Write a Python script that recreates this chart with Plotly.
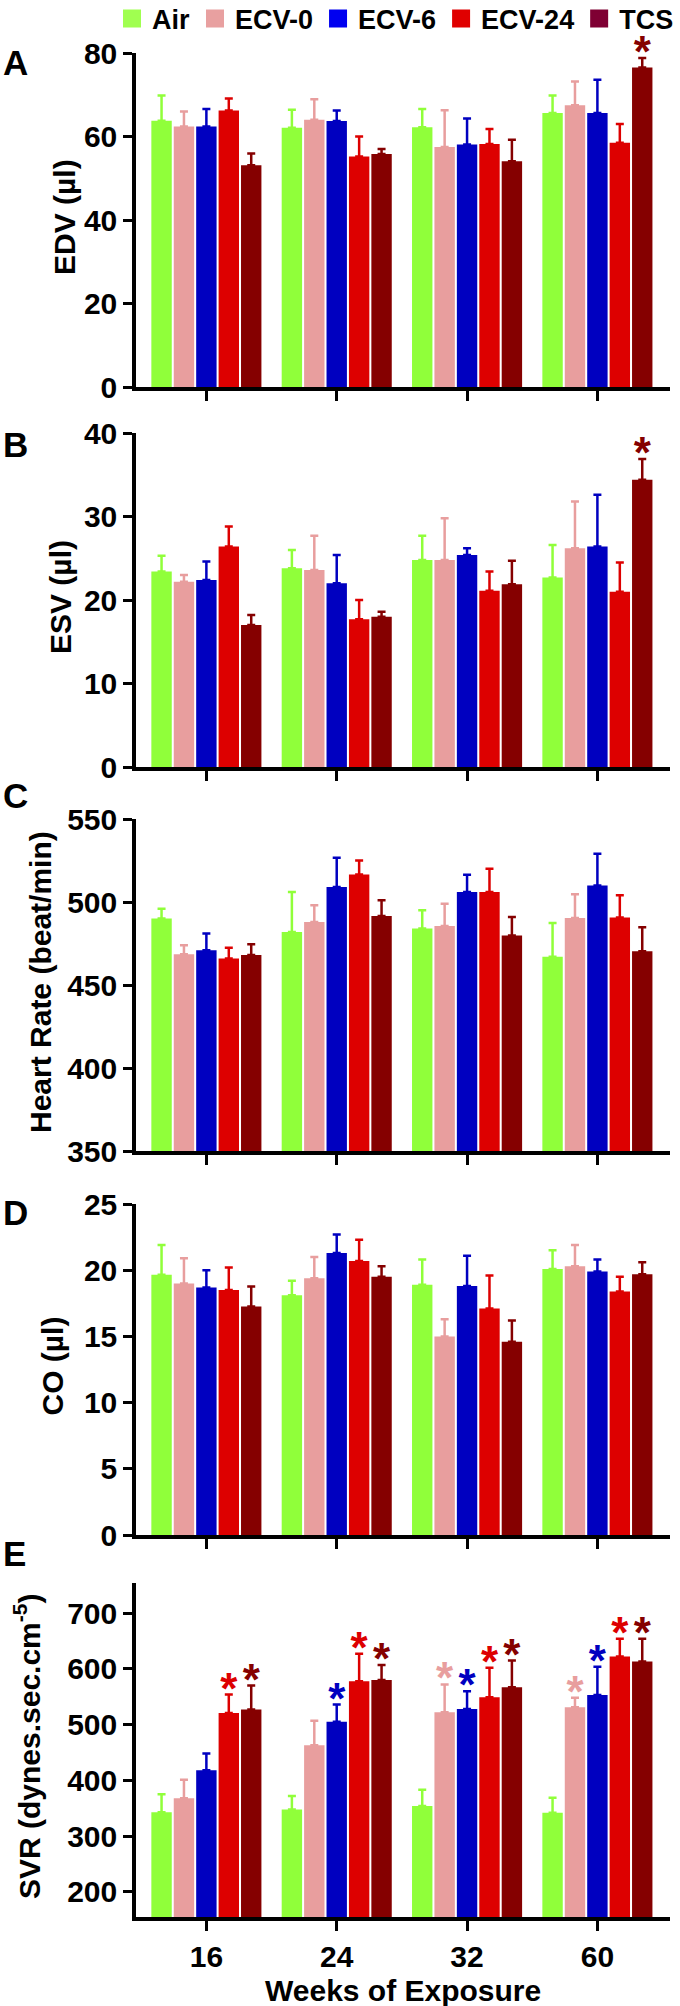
import plotly.graph_objects as go

weeks = ["16", "24", "32", "60"]
groups = ["Air", "ECV-0", "ECV-6", "ECV-24", "TCS"]
bar_colors = ["#90FF3A", "#E89E9E", "#0000C0", "#DD0000", "#850000"]
legend_colors = ["#A0FF50", "#E8A0A0", "#0000F0", "#E00000", "#7F0033"]

# mean values, one row per group, one column per week
edv_mean = [[63.8, 62.1, 62.2, 65.6], [62.4, 64.0, 57.5, 67.5], [62.4, 63.7, 58.1, 65.6],
            [66.2, 55.2, 58.2, 58.5], [53.1, 55.8, 54.1, 76.5]]
edv_top = [[69.8, 66.4, 66.6, 69.8], [66.0, 68.9, 66.3, 73.2], [66.6, 66.2, 64.3, 73.6],
           [69.1, 60.0, 61.8, 63.0], [55.9, 57.0, 59.2, 78.8]]
edv_sig = [[0, 0, 0, 0], [0, 0, 0, 0], [0, 0, 0, 0], [0, 0, 0, 0], [0, 0, 0, 1]]

esv_mean = [[23.4, 23.8, 24.8, 22.7], [22.2, 23.6, 24.8, 26.2], [22.4, 22.0, 25.4, 26.4],
            [26.4, 17.7, 21.1, 21.0], [17.0, 18.0, 21.9, 34.4]]
esv_top = [[25.3, 26.0, 27.7, 26.6], [23.0, 27.7, 29.8, 31.8], [24.6, 25.4, 26.2, 32.6],
           [28.8, 20.0, 23.4, 24.5], [18.2, 18.6, 24.7, 36.9]]
esv_sig = [[0, 0, 0, 0], [0, 0, 0, 0], [0, 0, 0, 0], [0, 0, 0, 0], [0, 0, 0, 1]]

hr_mean = [[490, 482, 484, 467], [468.5, 488, 485.6, 490.4], [471, 509, 506, 510],
           [466, 516.6, 506, 490.6], [468, 491.6, 479.8, 470.3]]
hr_top = [[496, 506, 495, 487.4], [474, 498, 499, 504.7], [481, 526.7, 516.4, 529],
          [472.5, 525, 520, 504], [474.5, 501, 491, 484.8]]
hr_sig = [[0, 0, 0, 0]] * 5

co_mean = [[19.65, 18.1, 18.9, 20.1], [19.0, 19.4, 15.0, 20.3], [18.7, 21.3, 18.8, 19.9],
           [18.5, 20.7, 17.1, 18.4], [17.25, 19.5, 14.6, 19.7]]
co_top = [[21.9, 19.2, 20.8, 21.5], [20.9, 21.0, 16.3, 21.9], [20.0, 22.7, 21.1, 20.8],
          [20.2, 22.3, 19.6, 19.5], [18.76, 20.3, 16.2, 20.6]]
co_sig = [[0, 0, 0, 0]] * 5

svr_mean = [[343, 348, 354, 342], [368, 463, 522, 531], [418, 505, 528, 553],
            [521, 578, 549, 622], [527, 580, 567, 613]]
svr_top = [[375, 372, 383, 369], [401, 507, 572, 548], [448, 536, 560, 604],
           [554, 627, 602, 654], [570, 607, 615, 654]]
svr_sig = [[0, 0, 0, 0], [0, 0, 1, 1], [0, 1, 1, 1], [1, 1, 1, 1], [1, 1, 1, 1]]

panels = [
    ("A", "EDV (µl)", edv_mean, edv_top, edv_sig, [0, 80], 20),
    ("B", "ESV (µl)", esv_mean, esv_top, esv_sig, [0, 40], 10),
    ("C", "Heart Rate (beat/min)", hr_mean, hr_top, hr_sig, [350, 550], 50),
    ("D", "CO (µl)", co_mean, co_top, co_sig, [0, 25], 5),
    ("E", "SVR (dynes.sec.cm<sup>-5</sup>)", svr_mean, svr_top, svr_sig, [155, 754], 100),
]

# page layout in pixels
panel_px = [(53, 387), (433, 767), (819, 1151), (1204, 1535), (1583, 1917)]
letter_px = [62, 444, 795, 1212, 1553]
ytitle_x = [64, 60, 40, 52, 27]

W, H = 680, 2006
ML, MR, MT, MB = 136, 10, 53, 89
plot_h = H - MT - MB
plot_w = W - ML - MR


def py(px):
    return (H - MB - px) / plot_h


def pxx(px):
    return (px - ML) / plot_w


FONT = "Liberation Sans, Arial, sans-serif"
BOLD = dict(family=FONT, color="black", weight="bold")
STAR_LIFT = 2  # px between error cap and asterisk

fig = go.Figure()
layout = {}

for p, (letter, title, mean, top, sig, yr, dt) in enumerate(panels):
    n = p + 1
    xa = "x" if n == 1 else f"x{n}"
    ya = "y" if n == 1 else f"y{n}"
    top_px, bot_px = panel_px[p]
    per_px = (yr[1] - yr[0]) / (bot_px - top_px)
    for g, name in enumerate(groups):
        err = [t - m for t, m in zip(top[g], mean[g])]
        fig.add_trace(go.Bar(
            x=weeks, y=mean[g], name=name, showlegend=False,
            marker=dict(color=bar_colors[g], line=dict(width=0)),
            error_y=dict(type="data", symmetric=False, array=err,
                         arrayminus=[0] * 4, color=bar_colors[g],
                         thickness=2.5, width=4),
            xaxis=xa, yaxis=ya, cliponaxis=False,
        ))
    for g, name in enumerate(groups):
        fig.add_trace(go.Scatter(
            x=weeks,
            y=[t + STAR_LIFT * per_px if s else None for t, s in zip(top[g], sig[g])],
            mode="text", text=["*"] * 4, textposition="middle center",
            textfont=dict(color=bar_colors[g], size=44, family=FONT, weight="bold"),
            alignmentgroup=f"stars{n}", offsetgroup=name,
            showlegend=False, xaxis=xa, yaxis=ya, cliponaxis=False,
            hoverinfo="skip",
        ))
    layout["xaxis" if n == 1 else f"xaxis{n}"] = dict(
        domain=[0, 1], anchor=ya, type="category", range=[-0.54, 3.557],
        showline=True, linecolor="black", linewidth=3.5, automargin=False,
        ticks="outside", ticklen=10, tickwidth=3, tickcolor="black",
        showticklabels=(n == 5), showgrid=False, zeroline=False,
        tickfont=dict(size=30, **BOLD),
    )
    layout["yaxis" if n == 1 else f"yaxis{n}"] = dict(
        domain=[py(bot_px), py(top_px)], anchor=xa, range=yr, dtick=dt,
        showline=True, linecolor="black", linewidth=3.5, automargin=False,
        ticks="outside", ticklen=9, tickwidth=3, tickcolor="black",
        showgrid=False, zeroline=False,
        tickfont=dict(size=30, **BOLD),
    )
    # y-axis title
    fig.add_annotation(text=title, xref="paper", yref="paper", textangle=-90,
                       x=pxx(ytitle_x[p]), y=py((top_px + bot_px) / 2 - 3),
                       xanchor="center", yanchor="middle", showarrow=False,
                       font=dict(size=30, **BOLD))
    # panel letter
    fig.add_annotation(text=letter, xref="paper", yref="paper",
                       x=pxx(1), y=py(letter_px[p]),
                       xanchor="left", yanchor="middle", showarrow=False,
                       font=dict(size=35, **BOLD))

fig.add_annotation(text="Weeks of Exposure", xref="paper", yref="paper",
                   x=0.5, y=py(1990), xanchor="center", yanchor="middle",
                   showarrow=False, font=dict(size=30, **BOLD))

# legend entries on a hidden axis pair
for g, name in enumerate(groups):
    fig.add_trace(go.Scatter(
        x=[None], y=[None], name=name, xaxis="x6", yaxis="y6", mode="markers",
        marker=dict(symbol="square", size=16, color=legend_colors[g],
                    line=dict(color=legend_colors[g], width=2)),
    ))
layout["xaxis6"] = dict(domain=[0, 0.01], anchor="y6", visible=False)
layout["yaxis6"] = dict(domain=[0, 0.01], anchor="x6", visible=False)

fig.update_layout(
    **layout,
    width=W, height=H,
    margin=dict(l=ML, r=MR, t=MT, b=MB, autoexpand=False),
    plot_bgcolor="white", paper_bgcolor="white",
    barmode="group", bargap=0.14, bargroupgap=0.09,
    scattermode="group", scattergap=0.14,
    font=dict(family=FONT, color="black"),
    legend=dict(orientation="h", x=pxx(112), y=py(19),
                xanchor="left", yanchor="middle",
                font=dict(size=27, **BOLD),
                itemclick=False, tracegroupgap=0, bgcolor="rgba(0,0,0,0)"),
    showlegend=True,
)

# page body has a default 8px margin; drop it so the figure fills the window
fig.write_html("out.html", config={"displayModeBar": False},
               post_script="document.body.style.margin = '0';")
